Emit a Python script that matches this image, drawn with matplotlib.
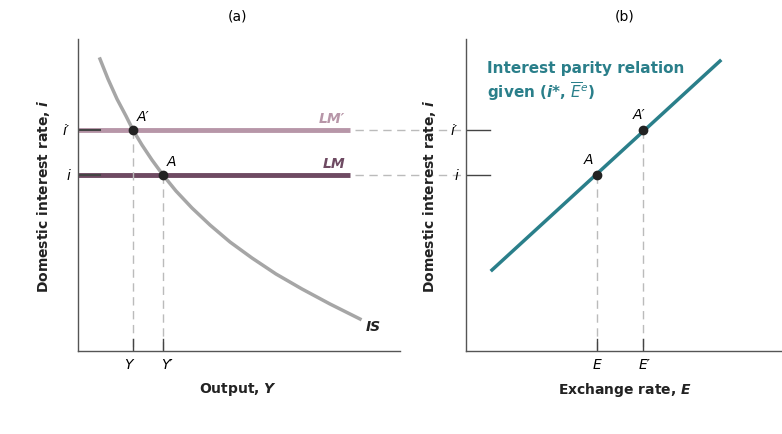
import matplotlib
matplotlib.use("Agg")
import matplotlib.pyplot as plt

W, H = 782, 435
# values in pixel-like units of each panel (y grows downward)
is_x = [100, 108, 117, 126, 133, 142, 152, 163, 176, 192, 210, 230, 252, 276, 302, 330, 360]
is_y = [60, 80, 100, 117, 131, 146, 161, 176, 192, 209, 226, 243, 259, 275, 290, 305, 320]
lm_levels = [131, 176]          # i', i
lm_names = ["LM\u2032", "LM"]
out_pts = [133, 163]            # Y (A'), Y' (A)
ip_x = [492, 720]
ip_y = [271, 62]
ex_pts = [643, 597]             # E' (A'), E (A)

fig = plt.figure(figsize=(W/100, H/100), dpi=100)
def mkax(l, r):
    ax = fig.add_axes([l/W, (H-352)/H, (r-l)/W, (352-40)/H])
    ax.set_xlim(l, r); ax.set_ylim(352, 40)
    for s in ["top", "right"]:
        ax.spines[s].set_visible(False)
    for s in ["left", "bottom"]:
        ax.spines[s].set_color("#555"); ax.spines[s].set_linewidth(1)
    ax.set_xticks([]); ax.set_yticks([])
    return ax
ax1 = mkax(78, 400)
ax2 = mkax(466, 782)
dash = dict(color="#bbbbbb", lw=1, ls=(0, (6, 4)), clip_on=False)

# panel a
ax1.plot(is_x, is_y, color="#a6a6a6", lw=2.5)
cols = ["#b796a8", "#6e4a62"]
for y, c, n in zip(lm_levels, cols, lm_names):
    ax1.plot([78, 350], [y, y], color=c, lw=3.5, solid_capstyle="butt")
    ax1.plot([78, 100], [y, y], color="#444", lw=1.5)
    ax1.text(345, y-5, n, color=c, fontsize=10, fontweight="bold", style="italic", ha="right", va="bottom")
    ax1.plot([355, 466], [y, y], **dash)
ax1.text(366, 327, "IS", fontsize=10, fontweight="bold", style="italic", ha="left", va="center", color="#222")
for x, y, n in zip(out_pts, lm_levels, ["A\u2032", "A"]):
    ax1.plot([x, x], [y, 352], **dash)
    ax1.plot([x, x], [340, 352], color="#444", lw=1)
    ax1.plot(x, y, "o", color="#222", ms=6)
    ax1.text(x+4, y-7, n, fontsize=10, style="italic", ha="left", va="bottom")
ax1.text(128, 365, "Y", fontsize=10, style="italic", ha="center", va="center")
ax1.text(167, 365, "Y\u2032", fontsize=10, style="italic", ha="center", va="center")
ax1.text(70, 131, "i\u2032", fontsize=10, style="italic", ha="right", va="center")
ax1.text(70, 176, "i", fontsize=10, style="italic", ha="right", va="center")
ax1.text(238, 390, "Output, $\\boldsymbol{Y}$", fontsize=10, fontweight="bold", ha="center", va="center", color="#222")
ax1.text(238, 17, "(a)", fontsize=10, ha="center", va="center")
ax1.text(44, 196, "Domestic interest rate, $\\boldsymbol{i}$", fontsize=10, fontweight="bold", rotation=90, ha="center", va="center", color="#222")

# panel b
ax2.plot(ip_x, ip_y, color="#2a7f8a", lw=2.5)
for x, y, n in zip(ex_pts, lm_levels, ["A\u2032", "A"]):
    ax2.plot([x, x], [y, 352], **dash)
    ax2.plot([x, x], [340, 352], color="#444", lw=1)
    ax2.plot([466, 490], [y, y], color="#444", lw=1)
    ax2.plot(x, y, "o", color="#222", ms=6)
    ax2.text(x-4, y-9, n, fontsize=10, style="italic", ha="right" if n == "A" else "center", va="bottom")
ax2.text(458, 131, "i\u2032", fontsize=10, style="italic", ha="right", va="center")
ax2.text(458, 176, "i", fontsize=10, style="italic", ha="right", va="center")
ax2.text(597, 365, "E", fontsize=10, style="italic", ha="center", va="center")
ax2.text(645, 365, "E\u2032", fontsize=10, style="italic", ha="center", va="center")
ax2.text(625, 390, "Exchange rate, $\\boldsymbol{E}$", fontsize=10, fontweight="bold", ha="center", va="center", color="#222")
ax2.text(625, 17, "(b)", fontsize=10, ha="center", va="center")
ax2.text(430, 196, "Domestic interest rate, $\\boldsymbol{i}$", fontsize=10, fontweight="bold", rotation=90, ha="center", va="center", color="#222")
ax2.text(487, 82, "Interest parity relation\ngiven ($\\boldsymbol{i}$*, $\\boldsymbol{\\overline{E}^e}$)", fontsize=11, fontweight="bold", color="#2a7f8a", ha="left", va="center", linespacing=1.2)

fig.savefig("out.png", dpi=100)
